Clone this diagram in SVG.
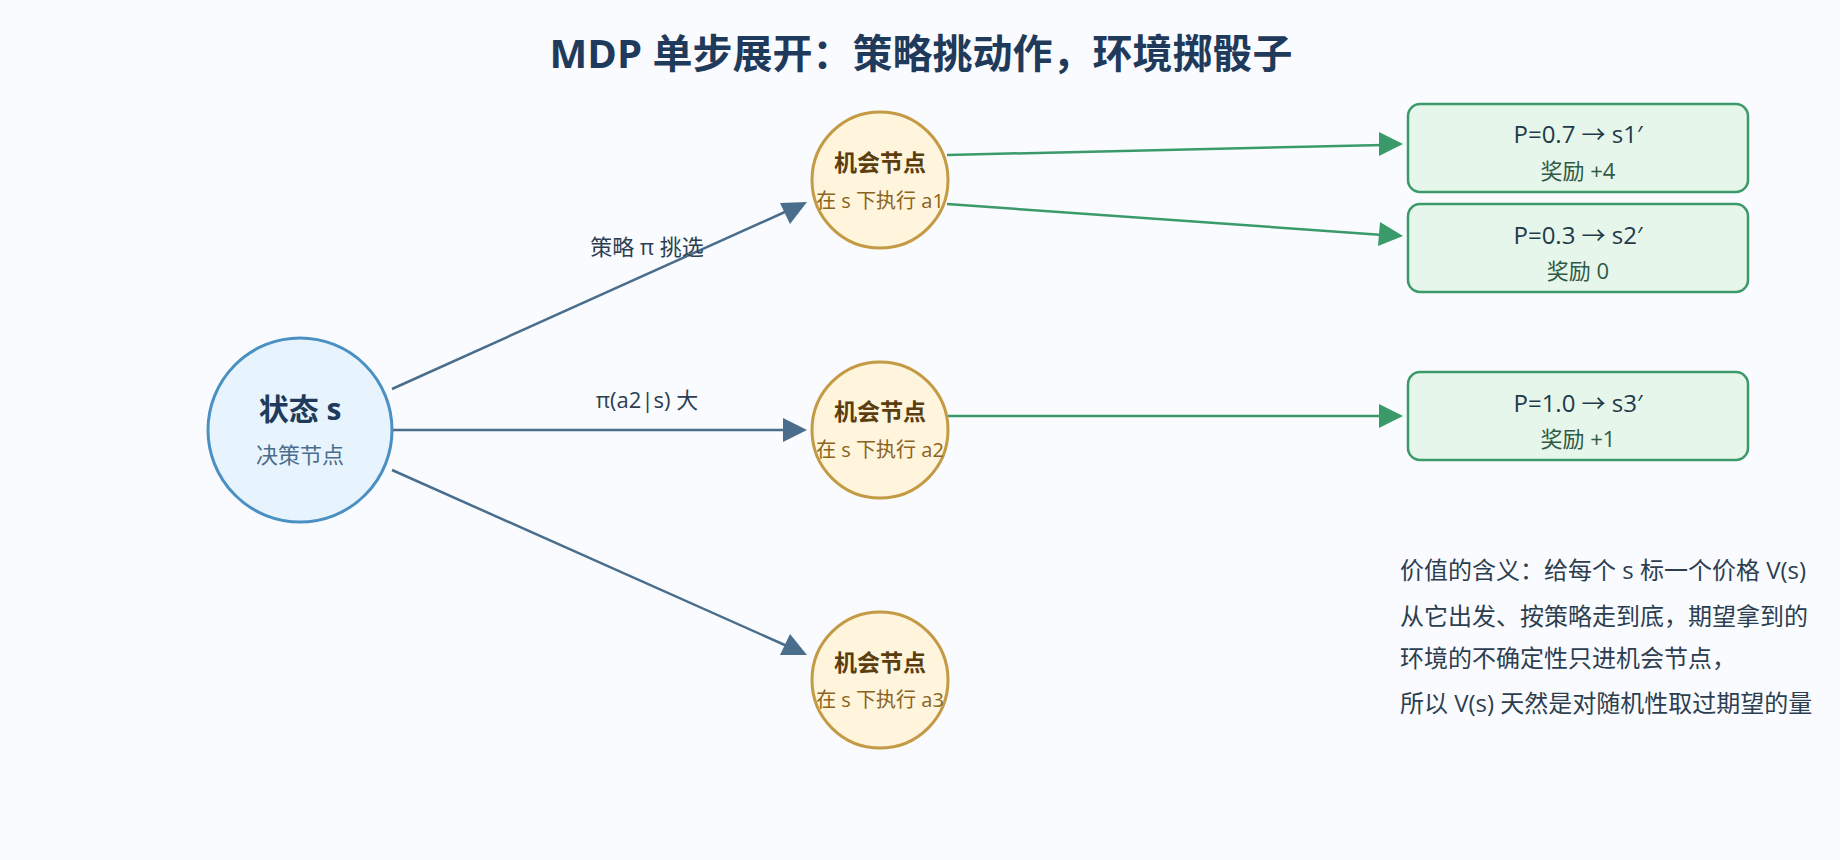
<svg xmlns="http://www.w3.org/2000/svg" width="1840" height="860" viewBox="0 0 1840 860">
<style>
text{font-family:"Open Sans","Noto Sans CJK SC",sans-serif;text-anchor:middle}
.title{font-size:40px;font-weight:bold;fill:#1f3a5a}
.st{fill:#e8f4fd;stroke:#4a90c2;stroke-width:3}
.ch{fill:#fff5dc;stroke:#c49a45;stroke-width:3}
.bx{fill:#e6f6ea;stroke:#3a9a6a;stroke-width:2.5}
.chT{font-size:23px;font-weight:bold;fill:#5a3e10}
.chS{font-size:20px;fill:#8a6420}
.bT{font-size:24px;fill:#1f3a4a}
.bS{font-size:22px;fill:#2f5a45}
.lab{font-size:22px;fill:#2c3e50}
.note{font-size:24px;fill:#2c3e50;text-anchor:start}
.eb{stroke:#4a6d8c;stroke-width:2.5;fill:none}
.eg{stroke:#3a9a6a;stroke-width:2.5;fill:none}
</style>
<rect width="1840" height="860" fill="#f9fbfe"/>
<text class="title" x="921" y="68">MDP 单步展开：策略挑动作，环境掷骰子</text>
<g id="connectors">
<path class="eb" d="M392,389L787,211"/>
<path d="M807,202l-27,1l10,21z" fill="#4a6d8c"/>
<path class="eb" d="M392,430H785"/>
<path d="M807,430l-24,-12v24z" fill="#4a6d8c"/>
<path class="eb" d="M392,470L787,646"/>
<path d="M807,655l-17,-21l-10,21z" fill="#4a6d8c"/>
<path class="eg" d="M947,155L1383,145"/>
<path d="M1403,144l-24,-12v24z" fill="#3a9a6a"/>
<path class="eg" d="M947,204L1383,235"/>
<path d="M1403,236l-23,-14l-2,24z" fill="#3a9a6a"/>
<path class="eg" d="M947,416H1383"/>
<path d="M1403,416l-24,-12v24z" fill="#3a9a6a"/>
<text class="lab" x="647" y="255">策略 π 挑选</text>
<text class="lab" x="647" y="408">π(a2|s) 大</text>
</g>
<g id="state"><circle class="st" cx="300" cy="430" r="92"/>
<text x="300" y="420" style="font-size:30px;font-weight:bold;fill:#1f3a5a">状态 s</text>
<text x="300" y="463" style="font-size:22px;fill:#4a6d8c">决策节点</text></g>
<g id="a1"><circle class="ch" cx="880" cy="180" r="68"/><text class="chT" x="880" y="171">机会节点</text><text class="chS" x="880" y="208">在 s 下执行 a1</text></g>
<g id="a2"><circle class="ch" cx="880" cy="430" r="68"/><text class="chT" x="880" y="420">机会节点</text><text class="chS" x="880" y="457">在 s 下执行 a2</text></g>
<g id="a3"><circle class="ch" cx="880" cy="680" r="68"/><text class="chT" x="880" y="671">机会节点</text><text class="chS" x="880" y="707">在 s 下执行 a3</text></g>
<g id="s1"><rect class="bx" x="1408" y="104" width="340" height="88" rx="12"/><text class="bT" x="1578" y="143">P=0.7 → s1′</text><text class="bS" x="1578" y="179">奖励 +4</text></g>
<g id="s2"><rect class="bx" x="1408" y="204" width="340" height="88" rx="12"/><text class="bT" x="1578" y="244">P=0.3 → s2′</text><text class="bS" x="1578" y="279">奖励 0</text></g>
<g id="s3"><rect class="bx" x="1408" y="372" width="340" height="88" rx="12"/><text class="bT" x="1578" y="412">P=1.0 → s3′</text><text class="bS" x="1578" y="447">奖励 +1</text></g>
<g id="note">
<text class="note" x="1400" y="579">价值的含义：给每个 s 标一个价格 V(s)</text>
<text class="note" x="1400" y="625">从它出发、按策略走到底，期望拿到的</text>
<text class="note" x="1400" y="667">环境的不确定性只进机会节点，</text>
<text class="note" x="1400" y="712">所以 V(s) 天然是对随机性取过期望的量</text>
</g>
</svg>
